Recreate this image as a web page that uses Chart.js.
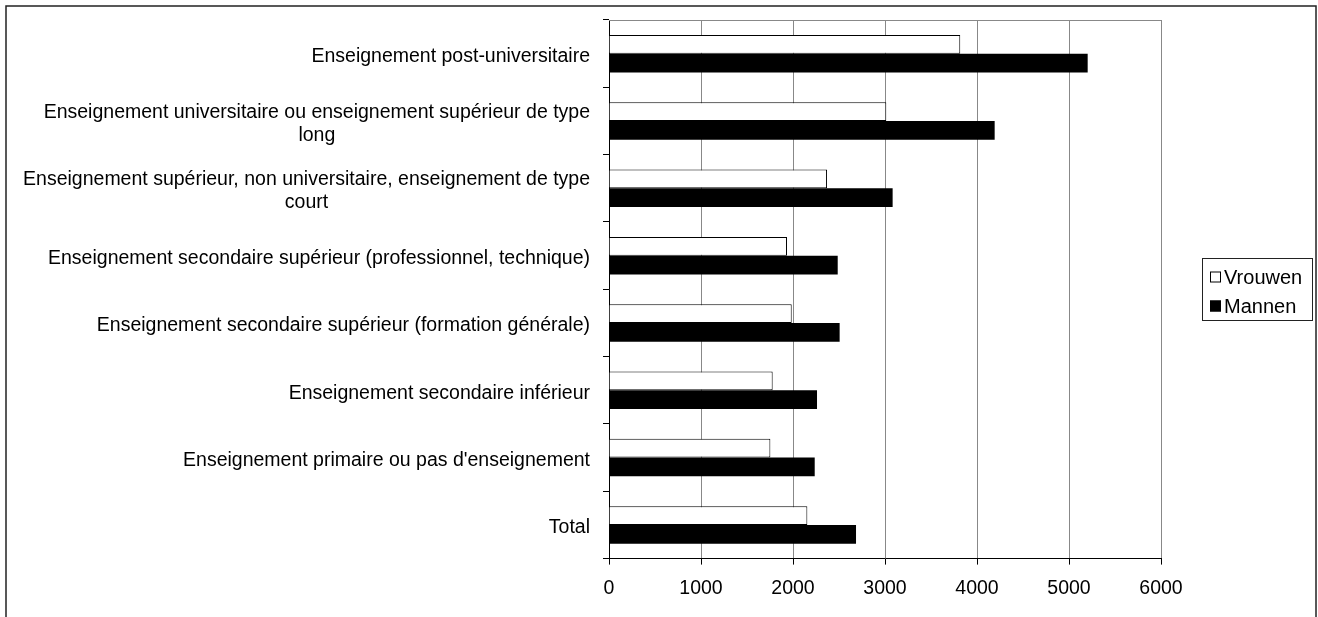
<!DOCTYPE html>
<html>
<head>
<meta charset="utf-8">
<script src="https://cdn.jsdelivr.net/npm/chart.js@4/dist/chart.umd.min.js"></script>
<style>
  body { margin: 0; background: #fff; }
  canvas { display: block; }
</style>
</head>
<body>
<canvas id="myChart" width="1318" height="617"></canvas>
<script>
const CATEGORIES = [
    "Enseignement post-universitaire",
    ["Enseignement universitaire ou enseignement supérieur de type", "long"],
    ["Enseignement supérieur, non universitaire, enseignement de type", "court"],
    "Enseignement secondaire supérieur (professionnel, technique)",
    "Enseignement secondaire supérieur (formation générale)",
    "Enseignement secondaire inférieur",
    "Enseignement primaire ou pas d'enseignement",
    "Total"
];

const VROUWEN = [3818, 3014, 2370, 1935, 1986, 1779, 1754, 2156];
const MANNEN = [5203, 4192, 3083, 2486, 2507, 2261, 2236, 2685];

const X_MIN = 0;
const X_MAX = 6000;
const X_STEP = 1000;

const FAMILY = '"Liberation Sans", Arial, sans-serif';

// draws the outer frame, the category labels (Excel style wrapping) and the legend box
const excelLook = {
    id: 'excelLook',
    beforeDraw(chart) {
        const ctx = chart.ctx;
        ctx.save();
        ctx.fillStyle = '#fff';
        ctx.fillRect(0, 0, chart.width, chart.height);
        ctx.restore();
    },
    afterDraw(chart) {
        const { ctx, chartArea, scales } = chart;
        ctx.save();

        // outer frame
        ctx.strokeStyle = '#222';
        ctx.lineWidth = 1.5;
        ctx.strokeRect(6, 6, 1310, 700);

        // top edge of plot area
        ctx.strokeStyle = '#888';
        ctx.lineWidth = 1;
        ctx.beginPath();
        ctx.moveTo(chartArea.left, Math.round(chartArea.top) + 0.5);
        ctx.lineTo(chartArea.right, Math.round(chartArea.top) + 0.5);
        ctx.stroke();

        // category labels
        ctx.font = '19.5px ' + FAMILY;
        ctx.fillStyle = '#000';
        ctx.textBaseline = 'middle';
        ctx.textAlign = 'center';
        const lineH = 23;
        const right = chartArea.left - 19;
        CATEGORIES.forEach((c, i) => {
            const lines = Array.isArray(c) ? c : [c];
            const w = Math.max(...lines.map(l => ctx.measureText(l).width));
            const y0 = scales.y.getPixelForValue(i) + 3 - (lines.length - 1) * lineH / 2;
            lines.forEach((l, j) => {
                ctx.fillText(l, right - w / 2, y0 + j * lineH);
            });
        });

        // legend
        const lx = 1202.5, ly = 258.5;
        ctx.font = '20px ' + FAMILY;
        ctx.strokeStyle = '#222';
        ctx.lineWidth = 1;
        ctx.strokeRect(lx, ly, 110, 62);
        ctx.textAlign = 'left';
        chart.data.datasets.forEach((ds, i) => {
            const cy = 277 + i * 29;
            ctx.fillStyle = ds.backgroundColor;
            ctx.fillRect(1210, cy - 5.5, 11, 11);
            ctx.strokeStyle = '#000';
            ctx.strokeRect(1210.5, cy - 5, 10, 10);
            ctx.fillStyle = '#000';
            ctx.fillText(ds.label, 1224, cy + 1);
        });

        ctx.restore();
    }
};

const ctx = document.querySelector('#myChart');

var chart = new Chart(ctx, {
    type: 'bar',
    data: {
        labels: CATEGORIES,
        datasets: [{
            label: 'Vrouwen',
            data: VROUWEN,
            backgroundColor: '#ffffff',
            borderColor: '#000000',
            borderWidth: 1,
            categoryPercentage: 0.557,
            barPercentage: 1.0
        }, {
            label: 'Mannen',
            data: MANNEN,
            backgroundColor: '#000000',
            borderWidth: 0,
            categoryPercentage: 0.557,
            barPercentage: 1.0
        }]
    },
    options: {
        indexAxis: 'y',
        responsive: false,
        animation: false,
        layout: {
            padding: { left: 603, right: 157, top: 20, bottom: 5 }
        },
        plugins: {
            legend: { display: false },
            tooltip: { enabled: false }
        },
        scales: {
            x: {
                min: X_MIN,
                max: X_MAX,
                ticks: {
                    stepSize: X_STEP,
                    color: '#000',
                    font: { family: FAMILY, size: 19.5 },
                    padding: 12,
                    maxRotation: 0,
                    callback: v => String(v)
                },
                grid: {
                    color: '#888',
                    tickColor: '#000',
                    tickLength: 6
                },
                border: { color: '#000', width: 1 }
            },
            y: {
                ticks: { display: false },
                grid: {
                    drawOnChartArea: false,
                    tickColor: '#000',
                    tickLength: 6
                },
                border: { color: '#000', width: 1 },
                afterFit(scale) { scale.width = 6; }
            }
        }
    },
    plugins: [excelLook]
});
</script>
</body>
</html>
